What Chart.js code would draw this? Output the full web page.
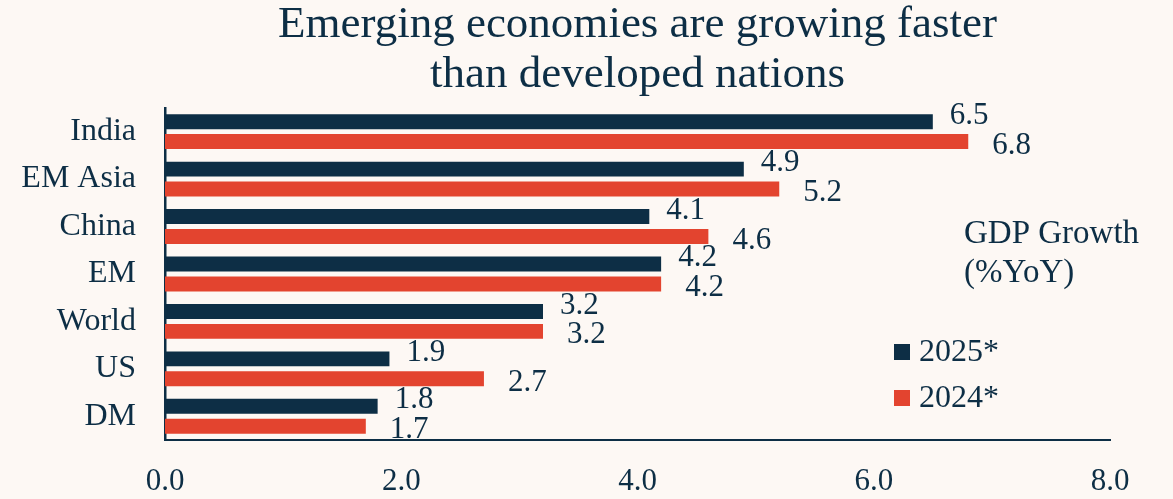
<!DOCTYPE html>
<html>
<head>
<meta charset="utf-8">
<title>GDP growth</title>
<script src="https://cdn.jsdelivr.net/npm/chart.js@4.4.1/dist/chart.umd.min.js"></script>
<style>
  body { margin: 0; background: #fdf8f4; }
  #wrap { width: 1173px; height: 499px; position: relative; }
</style>
</head>
<body>
<div id="wrap"><canvas id="chart"></canvas></div>
<script>
const categories = ["India", "EM Asia", "China", "EM", "World", "US", "DM"];
const growth2025 = [6.5, 4.9, 4.1, 4.2, 3.2, 1.9, 1.8];
const growth2024 = [6.8, 5.2, 4.6, 4.2, 3.2, 2.7, 1.7];
const seriesNames = ["2025*", "2024*"];
const xTickLabels = ["0.0", "2.0", "4.0", "6.0", "8.0"];

const NAVY = "#0d2e45";
const RED = "#e3442f";
const BG = "#fdf8f4";
const SERIF = "'Liberation Serif', 'DejaVu Serif', serif";

Chart.defaults.font.family = SERIF;
Chart.defaults.color = NAVY;

// paint the cream background behind everything
const background = {
  id: "background",
  beforeDraw(chart) {
    const ctx = chart.ctx;
    ctx.save();
    ctx.fillStyle = BG;
    ctx.fillRect(0, 0, chart.width, chart.height);
    ctx.restore();
  }
};

// value labels just past the end of each bar
const valueLabels = {
  id: "valueLabels",
  afterDatasetsDraw(chart) {
    const ctx = chart.ctx;
    ctx.save();
    ctx.font = "31px " + SERIF;
    ctx.fillStyle = NAVY;
    ctx.textAlign = "left";
    ctx.textBaseline = "middle";
    chart.data.datasets.forEach(function (ds, i) {
      const meta = chart.getDatasetMeta(i);
      const dx = i === 0 ? 17 : 24;
      const dy = i === 0 ? -6 : 4;
      meta.data.forEach(function (bar, j) {
        ctx.fillText(ds.data[j].toFixed(1), bar.x + dx, bar.y + dy);
      });
    });
    ctx.restore();
  }
};

// axis note and legend box inside the plot, lower right
const sideLegend = {
  id: "sideLegend",
  afterDraw(chart) {
    const ctx = chart.ctx;
    ctx.save();
    ctx.fillStyle = NAVY;
    ctx.textAlign = "left";
    ctx.textBaseline = "alphabetic";
    ctx.font = "33px " + SERIF;
    ctx.fillText("GDP Growth", 964, 243);
    ctx.fillText("(%YoY)", 964, 282);

    ctx.font = "32px " + SERIF;
    ctx.textBaseline = "middle";
    chart.data.datasets.forEach(function (ds, i) {
      const y = 352 + i * 46;
      ctx.fillStyle = ds.backgroundColor;
      ctx.fillRect(894, y - 8, 16, 16);
      ctx.fillStyle = NAVY;
      ctx.fillText(ds.label, 919, y + 1);
    });
    ctx.restore();
  }
};

const ctx = document.getElementById("chart").getContext("2d");
const chart = new Chart(ctx, {
  type: "bar",
  data: {
    labels: categories,
    datasets: [
      {
        label: seriesNames[0],
        data: growth2025,
        backgroundColor: NAVY,
        categoryPercentage: 0.84,
        barPercentage: 0.75
      },
      {
        label: seriesNames[1],
        data: growth2024,
        backgroundColor: RED,
        categoryPercentage: 0.84,
        barPercentage: 0.75
      }
    ]
  },
  options: {
    indexAxis: "y",
    responsive: true,
    maintainAspectRatio: false,
    animation: false,
    layout: { padding: { top: 0, right: 63, bottom: 0, left: 0 } },
    plugins: {
      legend: { display: false },
      tooltip: { enabled: false },
      title: {
        display: true,
        fullSize: false,
        text: ["Emerging economies are growing faster", "than developed nations"],
        color: NAVY,
        font: { family: SERIF, size: 45, weight: "normal", lineHeight: 1.11 },
        padding: { top: 0, bottom: 8 }
      }
    },
    scales: {
      x: {
        min: 0,
        max: 8,
        grid: { display: false, drawTicks: false },
        border: { display: true, color: NAVY, width: 2 },
        ticks: {
          stepSize: 2,
          padding: 23,
          font: { size: 31 },
          color: NAVY,
          callback: function (value, index) {
            return xTickLabels[index];
          }
        },
        afterFit: function (scale) {
          scale.height = 59;
        }
      },
      y: {
        grid: { display: false, drawTicks: false },
        border: { display: true, color: NAVY, width: 2.5 },
        ticks: {
          padding: 29,
          font: { size: 32 },
          color: NAVY
        },
        afterFit: function (scale) {
          scale.width = 165;
        }
      }
    }
  },
  plugins: [background, valueLabels, sideLegend]
});
</script>
</body>
</html>
